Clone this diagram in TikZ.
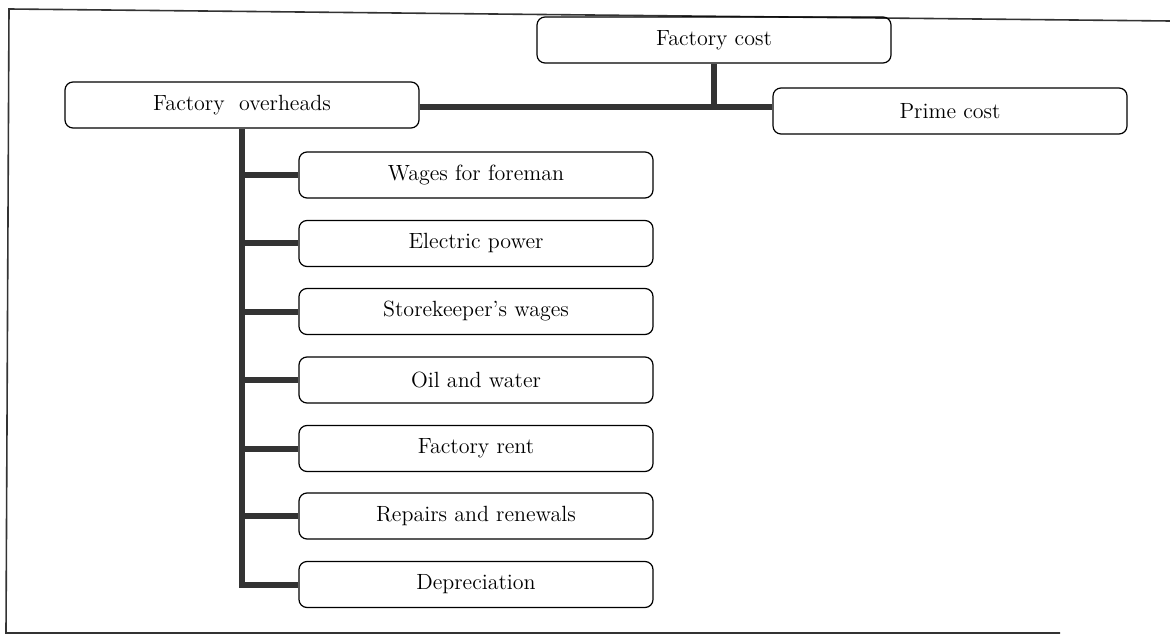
\documentclass[tikz,border=0pt]{standalone}
\tikzset{
	costbox/.style={draw, rounded corners=4pt, line width=0.6pt, minimum width=177pt, minimum height=23pt, inner sep=0pt, font=\fontsize{11}{13}\selectfont},
	link/.style={line width=3pt, color=black!80}
}
\begin{document}
\begin{tikzpicture}[x=0.5pt, y=-0.5pt]
		\useasboundingbox (0,0) rectangle (1170,641);
		\draw[line width=0.8pt, color=black!80] (1170,21) -- (9,9) -- (6,633) -- (1060,633);
		
		\node[costbox] (fcost) at (714,40) {Factory cost};
		\node[costbox] (over) at (242,105) {Factory\ \ overheads};
		\node[costbox] (prime) at (950,111) {Prime cost};
		
		\node[costbox] (wages) at (476,175) {Wages for foreman};
		\node[costbox] (power) at (476,243.5) {Electric power};
		\node[costbox] (store) at (476,311.5) {Storekeeper's wages};
		\node[costbox] (oil) at (476,380) {Oil and water};
		\node[costbox] (rent) at (476,448.5) {Factory rent};
		\node[costbox] (repair) at (476,516) {Repairs and renewals};
		\node[costbox] (deprec) at (476,584.5) {Depreciation};
		
		\coordinate (join) at (fcost.south |- 0,107.5);
		\draw[link] (over.east |- join) -- (prime.west |- join);
		\draw[link] (fcost.south) -- (join);
		
		\draw[link, line join=miter] (over.south) -- (over.south |- deprec.west) -- (deprec.west);
		\draw[link] (over.south |- wages.west) -- (wages.west);
		\draw[link] (over.south |- power.west) -- (power.west);
		\draw[link] (over.south |- store.west) -- (store.west);
		\draw[link] (over.south |- oil.west) -- (oil.west);
		\draw[link] (over.south |- rent.west) -- (rent.west);
		\draw[link] (over.south |- repair.west) -- (repair.west);
	\end{tikzpicture}
\end{document}
